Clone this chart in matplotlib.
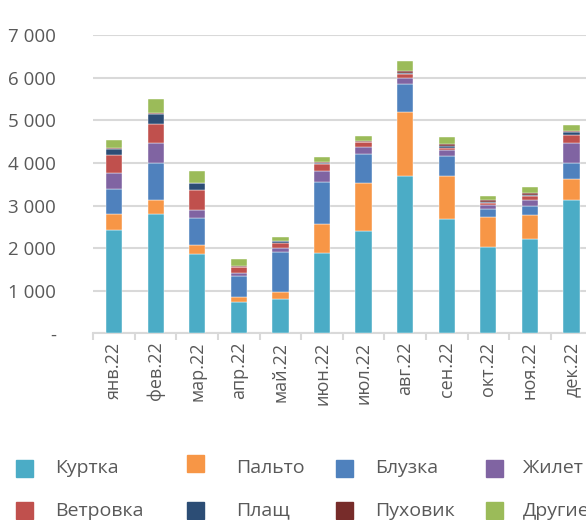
#Stacked bars by month

import matplotlib.pyplot as plt
import numpy as np

plt.rcParams['font.family'] = ['Open Sans', 'DejaVu Sans']

months = ['янв.22', 'фев.22', 'мар.22', 'апр.22', 'май.22', 'июн.22',
          'июл.22', 'авг.22', 'сен.22', 'окт.22', 'ноя.22', 'дек.22']

kurtka   = [2424, 2791, 1866, 729, 800, 1882, 2400, 3685, 2689, 2024, 2226, 3120]
palto    = [383, 345, 212, 118, 165, 683, 1129, 1522, 996, 712, 550, 494]
bluzka   = [581, 864, 628, 501, 955, 988, 673, 652, 480, 182, 212, 393]
zhilet   = [377, 471, 188, 64, 80, 259, 174, 148, 148, 101, 141, 464]
vetrovka = [423, 437, 462, 141, 132, 155, 109, 87, 40, 40, 85, 188]
plashch  = [148, 236, 164, 10, 33, 33, 16, 24, 38, 23, 40, 61]
puhovik  = [17, 24, 17, 10, 10, 15, 15, 37, 47, 38, 47, 40]
drugie   = [188, 345, 266, 180, 84, 133, 125, 252, 174, 94, 141, 134]

names = ['Куртка', 'Пальто', 'Блузка', 'Жилет', 'Ветровка', 'Плащ', 'Пуховик', 'Другие']
series = [kurtka, palto, bluzka, zhilet, vetrovka, plashch, puhovik, drugie]
colors = ['#4BACC6', '#F79646', '#4F81BD', '#8064A2', '#C0504D', '#2C4D75', '#772C2A', '#9BBB59']

grey = '#595959'

fig = plt.figure(figsize=(5.86, 5.2), dpi=100)
ax = fig.add_axes([93.3/586, 1 - 333.3/520, 499/586, 298/520])

x = np.arange(len(months))
bottom = np.zeros(len(months))
for vals, c in zip(series, colors):
    ax.bar(x, vals, 0.39, bottom=bottom, color=c, edgecolor='white', linewidth=0.3, zorder=3)
    bottom += np.array(vals)

ax.set_xlim(-0.5, len(months) - 0.5)
ax.set_ylim(0, 7000)
ax.set_yticks(range(0, 7001, 1000))
ax.set_yticklabels(['-'] + ['{} 000'.format(i) for i in range(1, 8)])
ax.yaxis.grid(True, color='#d9d9d9', linewidth=1.5, zorder=0)
ax.tick_params(axis='y', length=0, pad=27, labelsize=13.5, labelcolor=grey)

ax.set_xticks(x)
ax.set_xticklabels(months, rotation=90, fontsize=13, color=grey)
ax.set_xticks(np.arange(-0.5, len(months)), minor=True)
ax.tick_params(axis='x', which='major', length=0, pad=6)
ax.tick_params(axis='x', which='minor', length=5, color='#d9d9d9', width=1.5)

for s in ['top', 'right', 'left']:
    ax.spines[s].set_visible(False)
ax.spines['bottom'].set_color('#d9d9d9')
ax.spines['bottom'].set_linewidth(1.5)

#legend drawn by hand, 2 rows x 4 columns
col_x = [16, 187, 336, 486]
text_x = [55, 236, 375, 523]
row_y = [468, 510.5]
for i, (n, c) in enumerate(zip(names, colors)):
    cx = col_x[i % 4]
    cy = row_y[i // 4]
    if i == 1:
        cy -= 4.5
    fig.patches.append(plt.Rectangle((cx/586, 1 - (cy + 8.5)/520), 17/586, 17/520,
                                     transform=fig.transFigure, color=c, figure=fig))
    fig.text(text_x[i % 4]/586, 1 - row_y[i // 4]/520, n, fontsize=14,
             color=grey, va='center', ha='left')

plt.savefig('out.png', dpi=100)
